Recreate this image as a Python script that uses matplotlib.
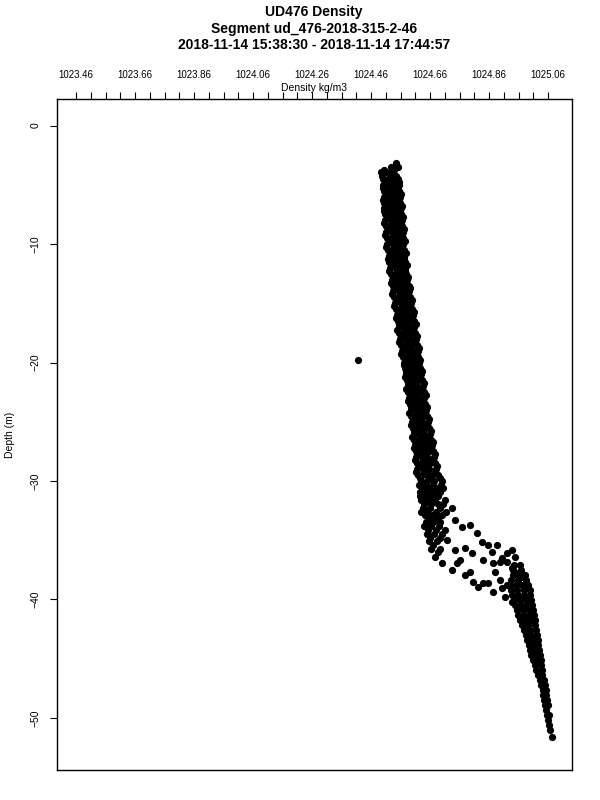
import matplotlib
matplotlib.use('Agg')
import matplotlib.pyplot as plt
import numpy as np

plt.rcParams['font.family'] = ['Liberation Sans', 'DejaVu Sans']

title_lines = ['UD476 Density',
               'Segment ud_476-2018-315-2-46',
               '2018-11-14 15:38:30 - 2018-11-14 17:44:57']

# upper layer: a row of samples for each depth (m)
upper_depth = [3.2, 3.5, 3.9, 4.5, 5.0, 5.5, 6.0, 6.5, 7.0, 7.5, 8.0, 8.5, 9.0, 9.5,
               10.0, 10.5, 11.0, 11.5, 12.0, 12.5, 13.0, 13.5, 14.0, 14.5, 15.0, 15.5,
               16.0, 16.5, 17.0, 17.5, 18.0, 18.5, 19.0, 19.5, 20.0, 20.5, 21.0, 21.5,
               22.0, 22.5, 23.0, 23.5, 24.0, 24.5, 25.0, 25.5, 26.0, 26.5, 27.0, 27.5,
               28.0, 28.5, 29.0, 29.5]
upper_dens = [
    [1024.545],
    [1024.528, 1024.552],
    [1024.494, 1024.512, 1024.530],
    [1024.500, 1024.517, 1024.535, 1024.550],
    [1024.502, 1024.520, 1024.538, 1024.553],
    [1024.503, 1024.515, 1024.531, 1024.548, 1024.556],
    [1024.504, 1024.522, 1024.540, 1024.557],
    [1024.504, 1024.518, 1024.534, 1024.550, 1024.559],
    [1024.505, 1024.524, 1024.543, 1024.561],
    [1024.506, 1024.520, 1024.537, 1024.553, 1024.563],
    [1024.507, 1024.526, 1024.546, 1024.565],
    [1024.509, 1024.522, 1024.539, 1024.555, 1024.566],
    [1024.511, 1024.530, 1024.549, 1024.567],
    [1024.513, 1024.527, 1024.542, 1024.558, 1024.568],
    [1024.515, 1024.534, 1024.552, 1024.569],
    [1024.518, 1024.531, 1024.545, 1024.560, 1024.571],
    [1024.520, 1024.538, 1024.556, 1024.572],
    [1024.522, 1024.536, 1024.549, 1024.562, 1024.574],
    [1024.525, 1024.543, 1024.561, 1024.576],
    [1024.527, 1024.540, 1024.554, 1024.568, 1024.579],
    [1024.530, 1024.548, 1024.566, 1024.583],
    [1024.533, 1024.546, 1024.560, 1024.574, 1024.587],
    [1024.535, 1024.553, 1024.571, 1024.589],
    [1024.539, 1024.552, 1024.566, 1024.580, 1024.593],
    [1024.542, 1024.560, 1024.578, 1024.596],
    [1024.545, 1024.558, 1024.572, 1024.586, 1024.599],
    [1024.548, 1024.566, 1024.584, 1024.602],
    [1024.550, 1024.563, 1024.577, 1024.591, 1024.605],
    [1024.553, 1024.571, 1024.589, 1024.607],
    [1024.555, 1024.568, 1024.582, 1024.596, 1024.610],
    [1024.558, 1024.576, 1024.594, 1024.613],
    [1024.561, 1024.574, 1024.588, 1024.602, 1024.615],
    [1024.565, 1024.583, 1024.601, 1024.618],
    [1024.569, 1024.581, 1024.594, 1024.607, 1024.620],
    [1024.573, 1024.590, 1024.607, 1024.623],
    [1024.576, 1024.589, 1024.601, 1024.613, 1024.627],
    [1024.579, 1024.595, 1024.612, 1024.630],
    [1024.581, 1024.593, 1024.606, 1024.619, 1024.632],
    [1024.584, 1024.600, 1024.617, 1024.635],
    [1024.586, 1024.598, 1024.611, 1024.625, 1024.638],
    [1024.589, 1024.605, 1024.623, 1024.641],
    [1024.591, 1024.603, 1024.617, 1024.631, 1024.644],
    [1024.594, 1024.611, 1024.629, 1024.647],
    [1024.596, 1024.609, 1024.623, 1024.637, 1024.651],
    [1024.599, 1024.616, 1024.634, 1024.654],
    [1024.601, 1024.614, 1024.628, 1024.643, 1024.657],
    [1024.604, 1024.621, 1024.640, 1024.660],
    [1024.606, 1024.619, 1024.634, 1024.649, 1024.663],
    [1024.608, 1024.626, 1024.645, 1024.666],
    [1024.611, 1024.624, 1024.639, 1024.655, 1024.669],
    [1024.613, 1024.631, 1024.651, 1024.672],
    [1024.615, 1024.629, 1024.645, 1024.661, 1024.676],
    [1024.617, 1024.636, 1024.656, 1024.680],
    [1024.620, 1024.634, 1024.650, 1024.668, 1024.686],
]

# samples from the second profile, falling between the rows above
upper2_depth = [3.75, 4.25, 4.75, 5.25, 5.75, 6.25, 6.75, 7.25, 7.75, 8.25, 8.75, 9.25,
                9.75, 10.25, 10.75, 11.25, 11.75, 12.25, 12.75, 13.25, 13.75, 14.25,
                14.75, 15.25, 15.75, 16.25, 16.75, 17.25, 17.75, 18.25, 18.75, 19.25,
                19.75, 20.25, 20.75, 21.25, 21.75, 22.25, 22.75, 23.25, 23.75, 24.25,
                24.75, 25.25, 25.75, 26.25, 26.75, 27.25, 27.75, 28.25, 28.75, 29.25,
                29.75]
upper2_dens = [
    [1024.505, 1024.538],
    [1024.498, 1024.526, 1024.546],
    [1024.510, 1024.529, 1024.556],
    [1024.499, 1024.527, 1024.552],
    [1024.509, 1024.536, 1024.560],
    [1024.500, 1024.530, 1024.554],
    [1024.511, 1024.541, 1024.565],
    [1024.503, 1024.531, 1024.558],
    [1024.513, 1024.545, 1024.568],
    [1024.505, 1024.534, 1024.561],
    [1024.516, 1024.547, 1024.572],
    [1024.508, 1024.538, 1024.564],
    [1024.521, 1024.550, 1024.574],
    [1024.512, 1024.541, 1024.566],
    [1024.525, 1024.553, 1024.578],
    [1024.517, 1024.546, 1024.570],
    [1024.529, 1024.557, 1024.581],
    [1024.522, 1024.551, 1024.575],
    [1024.533, 1024.562, 1024.586],
    [1024.527, 1024.556, 1024.580],
    [1024.539, 1024.567, 1024.591],
    [1024.532, 1024.562, 1024.586],
    [1024.545, 1024.573, 1024.598],
    [1024.538, 1024.568, 1024.592],
    [1024.551, 1024.579, 1024.604],
    [1024.544, 1024.574, 1024.598],
    [1024.556, 1024.585, 1024.611],
    [1024.549, 1024.579, 1024.603],
    [1024.562, 1024.590, 1024.616],
    [1024.555, 1024.585, 1024.609],
    [1024.568, 1024.596, 1024.621],
    [1024.561, 1024.592, 1024.614],
    [1024.575, 1024.601, 1024.626],
    [1024.570, 1024.598, 1024.620],
    [1024.580, 1024.607, 1024.633],
    [1024.574, 1024.604, 1024.626],
    [1024.586, 1024.613, 1024.639],
    [1024.579, 1024.609, 1024.631],
    [1024.591, 1024.618, 1024.645],
    [1024.585, 1024.615, 1024.637],
    [1024.596, 1024.624, 1024.651],
    [1024.590, 1024.620, 1024.644],
    [1024.601, 1024.630, 1024.658],
    [1024.595, 1024.625, 1024.650],
    [1024.607, 1024.636, 1024.664],
    [1024.600, 1024.631, 1024.656],
    [1024.612, 1024.641, 1024.671],
    [1024.604, 1024.636, 1024.662],
    [1024.617, 1024.647, 1024.677],
    [1024.609, 1024.641, 1024.668],
    [1024.621, 1024.652, 1024.684],
    [1024.613, 1024.646, 1024.675],
    [1024.625, 1024.657, 1024.692],
]

# top of the pycnocline, still fairly dense
cline_depth = [30.0, 30.34, 30.6, 30.93, 31.25, 31.60, 31.9, 32.28, 32.6, 32.87, 33.15,
               33.46, 33.8, 34.14, 34.5, 34.81, 35.1, 35.40, 35.7, 36.4]
cline_dens = [
    [1024.628, 1024.650, 1024.672, 1024.700],
    [1024.623, 1024.646, 1024.670, 1024.697],
    [1024.636, 1024.660, 1024.684, 1024.705],
    [1024.626, 1024.650, 1024.674, 1024.694],
    [1024.625, 1024.642, 1024.665, 1024.688],
    [1024.630, 1024.653, 1024.677, 1024.711],
    [1024.640, 1024.663, 1024.686, 1024.704],
    [1024.636, 1024.660, 1024.694],
    [1024.630, 1024.650, 1024.680, 1024.714],
    [1024.643, 1024.667, 1024.701],
    [1024.655, 1024.684],
    [1024.646, 1024.670, 1024.694],
    [1024.640, 1024.663, 1024.690],
    [1024.653, 1024.680],
    [1024.648, 1024.672, 1024.700],
    [1024.660, 1024.694],
    [1024.655, 1024.684],
    [1024.670],
    [1024.663, 1024.694],
    [1024.676],
]

# scattered samples across the pycnocline
scatter_depth = [32.28, 33.29, 33.88, 33.71, 34.39, 35.15, 35.40, 35.40, 35.99, 36.08,
                 35.82, 36.41, 36.50, 37.09, 34.14, 34.98, 35.82, 36.67, 35.65, 36.08,
                 36.67, 36.92, 36.84, 37.68, 36.84, 37.34, 37.76, 38.10, 35.99, 36.92,
                 37.51, 36.92, 37.93, 37.68, 38.52, 38.95, 38.61, 38.61, 39.37, 38.35,
                 39.03, 39.79, 38.78, 40.21]
scatter_dens = [1024.735, 1024.745, 1024.769, 1024.796, 1024.820, 1024.837, 1024.857,
                1024.888, 1024.871, 1024.922, 1024.939, 1024.949, 1024.905, 1024.966,
                1024.711, 1024.718, 1024.745, 1024.762, 1024.779, 1024.803, 1024.840,
                1024.874, 1024.898, 1024.881, 1024.922, 1024.939, 1024.955, 1024.976,
                1024.687, 1024.701, 1024.735, 1024.752, 1024.779, 1024.796, 1024.806,
                1024.823, 1024.840, 1024.857, 1024.874, 1024.898, 1024.905, 1024.915,
                1024.922, 1024.939]

# bottom layer
lower_depth = [37.09, 37.51, 37.93, 38.35, 38.78, 39.20, 39.62, 40.04, 40.46, 40.89,
               41.31, 41.73, 42.15, 42.57, 43.00, 43.42, 43.84, 44.26, 44.68, 45.11,
               45.53, 45.95, 46.37, 46.79, 47.22, 47.64, 48.06, 48.48, 48.90, 49.32,
               49.75, 50.17, 50.59, 51.01, 51.60]
lower_dens = [
    [1024.945],
    [1024.942, 1024.969],
    [1024.942, 1024.962, 1024.983],
    [1024.935, 1024.959, 1024.986],
    [1024.932, 1024.952, 1024.972, 1024.993],
    [1024.935, 1024.955, 1024.979, 1024.999],
    [1024.939, 1024.959, 1024.979, 1024.999],
    [1024.945, 1024.966, 1024.986, 1025.003],
    [1024.949, 1024.969, 1024.989, 1025.006],
    [1024.955, 1024.976, 1024.996, 1025.010],
    [1024.959, 1024.979, 1024.999, 1025.013],
    [1024.966, 1024.986, 1025.006, 1025.016],
    [1024.972, 1024.993, 1025.016],
    [1024.979, 1024.999, 1025.020],
    [1024.986, 1025.003, 1025.023],
    [1024.989, 1025.010, 1025.027],
    [1024.996, 1025.013, 1025.027],
    [1024.999, 1025.016, 1025.030],
    [1025.003, 1025.020, 1025.033],
    [1025.010, 1025.027, 1025.037],
    [1025.016, 1025.037],
    [1025.020, 1025.040],
    [1025.027, 1025.040],
    [1025.033, 1025.047],
    [1025.037, 1025.050],
    [1025.044, 1025.054],
    [1025.044, 1025.054],
    [1025.047, 1025.057],
    [1025.050, 1025.060],
    [1025.054],
    [1025.057, 1025.064],
    [1025.060],
    [1025.064],
    [1025.067],
    [1025.074],
]

# lone spike
spike_depth = [19.79]
spike_dens = [1024.416]

density_ticks = [1023.46, 1023.66, 1023.86, 1024.06, 1024.26, 1024.46, 1024.66, 1024.86, 1025.06]
depth_ticks = [0, -10, -20, -30, -40, -50]

depth = []
dens = []
for dlist, rows in [(upper_depth, upper_dens), (upper2_depth, upper2_dens),
                    (cline_depth, cline_dens), (lower_depth, lower_dens)]:
    for dd, row in zip(dlist, rows):
        depth += [dd] * len(row)
        dens += row
depth += scatter_depth + spike_depth
dens += scatter_dens + spike_dens

depth = -np.array(depth)
dens = np.array(dens)

fig = plt.figure(figsize=(6, 8), dpi=100)
ax = fig.add_axes([57/600, 30/800, 515/600, 671/800])

ax.plot(dens, depth, 'o', color='black', markersize=5.2, markeredgewidth=0)

ax.set_xlim(1023.3956, 1025.141)
ax.set_ylim(-54.39, 2.24)

ax.xaxis.tick_top()
ax.set_xticks(density_ticks)
ax.set_xticklabels(['%.2f' % t for t in density_ticks])
ax.set_xticks(np.arange(1023.46, 1025.07, 0.05), minor=True)
ax.tick_params(axis='x', which='both', length=5, width=0.8, direction='out',
               labelsize=7, pad=9, top=True, bottom=False)
ax.tick_params(axis='x', which='minor', labeltop=False)

ax.set_yticks(depth_ticks)
ax.set_yticklabels([str(t).replace('-', '\u2212') for t in depth_ticks],
                   rotation=90, va='center')
ax.tick_params(axis='y', length=5, width=0.8, direction='out', labelsize=7.5, pad=7,
               right=False)

for s in ax.spines.values():
    s.set_linewidth(1)

fig.text(314/600, 1 - 88/800, 'Density kg/m3', ha='center', va='center', fontsize=7.5)
fig.text(10/600, 1 - 435/800, 'Depth (m)', ha='center', va='center', fontsize=7.5,
         rotation=90)

for i, line in enumerate(title_lines):
    fig.text(314/600, 1 - (12 + 16.5*i)/800, line, ha='center', va='center',
             fontsize=10, fontweight='bold')

fig.savefig('out.png', dpi=100)
